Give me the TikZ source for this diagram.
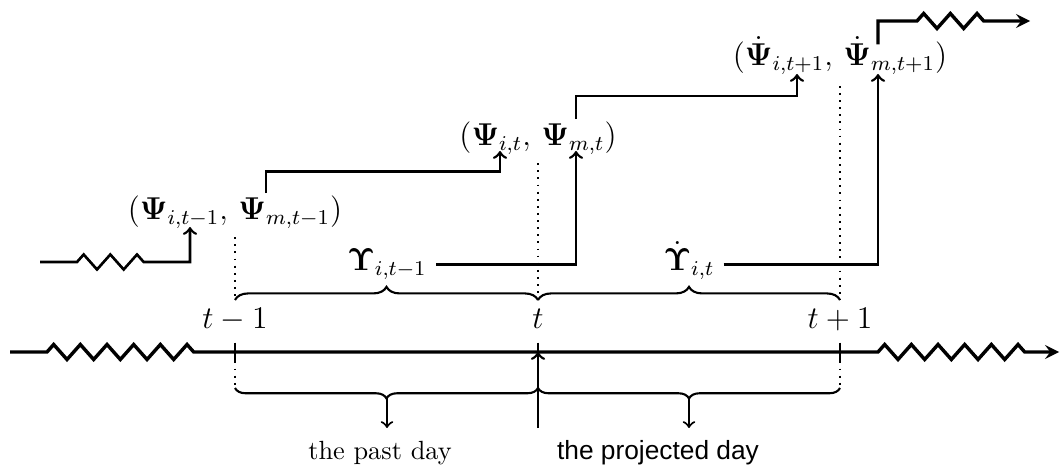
\documentclass[tikz,border=0pt]{standalone}
\usepackage{amsmath}
\usepackage{fontspec}
\newfontfamily\sanstext{Liberation Sans}
\usetikzlibrary{decorations.pathreplacing,arrows,calc}

\begin{document}
\begin{tikzpicture}[x=0.38pt, y=-0.38pt,
    timeline/.style={line width=1.3pt},
    stepline/.style={line width=1pt},
    curly/.style={decorate, decoration={brace, amplitude=#1}, line width=0.8pt},
    curly/.default=5pt,
    tickmark/.style={line width=1pt},
    guide/.style={dotted, line width=0.7pt},
    psi/.style={anchor=base, inner sep=1pt, font=\large},
    ups/.style={anchor=base, font=\large},
    tlabel/.style={anchor=base, font=\large}]
   \useasboundingbox (0,0) rectangle (1060,465);

   % the three days on the time line
   \coordinate (Tm) at (235,352);
   \coordinate (T0) at (538,352);
   \coordinate (Tp) at (840,352);
   \coordinate (lineL) at (10,352);
   \coordinate (lineR) at (1059,352);

   % time line with the broken parts
   \draw[timeline,-stealth] (lineL) -- (47,352)
     \foreach \k in {1,...,5} { -- ++(6.67,-7.5) -- ++(13.33,15) -- ++(6.67,-7.5) }
     -- ++(6.67,-7.5) -- ++(6.67,7.5) -- (878,352)
     \foreach \k in {1,...,5} { -- ++(6.67,-7.5) -- ++(13.33,15) -- ++(6.67,-7.5) }
     -- ++(6.67,-7.5) -- ++(6.67,7.5) -- (lineR);

   \node[tlabel] (lm) at (235,329) {$t-1$};
   \node[tlabel] (l0) at (538,329) {$t$};
   \node[tlabel] (lp) at (840,329) {$t+1$};

   \foreach \p in {Tm,Tp}
     \draw[tickmark] ([yshift=3.6pt]\p) -- ([yshift=-3.6pt]\p);
   \draw[tickmark] ([yshift=3.6pt]T0) -- (T0);

   % states
   \node[psi] (psiA) at (235,220) {$(\boldsymbol{\Psi}_{i,t-1},\,\boldsymbol{\Psi}_{m,t-1})$};
   \node[psi] (psiB) at (538,146) {$(\boldsymbol{\Psi}_{i,t},\,\boldsymbol{\Psi}_{m,t})$};
   \node[psi] (psiC) at (840,66) {$(\dot{\boldsymbol{\Psi}}_{i,t+1},\,\dot{\boldsymbol{\Psi}}_{m,t+1})$};

   \node[ups] (upsA) at (387,271) {$\boldsymbol{\Upsilon}_{i,t-1}$};
   \node[ups] (upsB) at (689,271) {$\dot{\boldsymbol{\Upsilon}}_{i,t}$};

   % braces above and below the line
   \coordinate (Bm) at (235,300);
   \coordinate (B0) at (538,300);
   \coordinate (Bp) at (840,300);
   \coordinate (Lm) at (235,388);
   \coordinate (L0) at (538,388);
   \coordinate (Lp) at (840,388);
   \draw[curly] (Bm) -- (B0);
   \draw[curly] (B0) -- (Bp);
   \draw[curly=4pt] (L0) -- (Lm);
   \draw[curly=4pt] (Lp) -- (L0);

   \draw[guide] ([yshift=-2pt]psiA.south) -- (Bm);
   \draw[guide] ([yshift=-2pt]psiB.south) -- (B0);
   \draw[guide] ([yshift=-3pt]psiC.south) -- (Bp);
   \foreach \p/\q in {Tm/Lm, Tp/Lp}
     \draw[guide] ([yshift=-3.6pt]\p) -- (\q);

   % days below
   \coordinate (pastTip) at (387,398);
   \coordinate (projTip) at (689,398);
   \coordinate (pastEnd) at (387,428);
   \coordinate (projEnd) at (689,428);
   \coordinate (nowEnd) at (538,428);
   \draw[->, line width=0.8pt] (pastTip) -- (pastEnd);
   \draw[->, line width=0.8pt] (projTip) -- (projEnd);
   \draw[->, stepline] (nowEnd) -- (T0);
   \node[anchor=base] (past) at (380,459) {the past day};
   \node[anchor=base] (proj) at (658,459) {\sanstext the projected day};

   % columns and levels of the steps
   \coordinate (iA) at (190,0);
   \coordinate (mA) at (266,0);
   \coordinate (iB) at (500,0);
   \coordinate (mB) at (576,0);
   \coordinate (iC) at (797,0);
   \coordinate (mC) at (878,0);
   \coordinate (hA) at (0,171.5);
   \coordinate (hB) at (0,96);
   \coordinate (inL) at (40,262);
   \coordinate (outR) at (1030,21);

   % steps from one state to the next
   \draw[stepline,->] (inL) -- (77,262)
     \foreach \k in {1,2} { -- ++(6.67,-7.5) -- ++(13.33,15) -- ++(6.67,-7.5) }
     -- ++(6.67,-7.5) -- ++(6.67,7.5) -- (inL -| iA) -- ($(psiA.base -| iA)+(0,7)$);
   \draw[stepline,->] (psiA.north -| mA) |- (hA -| iB) -- ($(psiB.base -| iB)+(0,5)$);
   \draw[stepline,->] (upsA.east) -| ($(psiB.base -| mB)+(0,5)$);
   \draw[stepline,->] (psiB.north -| mB) |- (hB -| iC) -- ($(psiC.base -| iC)+(0,8)$);
   \draw[stepline,->] (upsB.east |- upsA.east) -| ($(psiC.base -| mC)+(0,8)$);
   \draw[timeline,-stealth] ([yshift=-4pt]psiC.north -| mC) |- (917,21)
     \foreach \k in {1,2} { -- ++(6.67,-7.5) -- ++(13.33,15) -- ++(6.67,-7.5) }
     -- ++(6.67,-7.5) -- ++(6.67,7.5) -- (outR);
\end{tikzpicture}
\end{document}
